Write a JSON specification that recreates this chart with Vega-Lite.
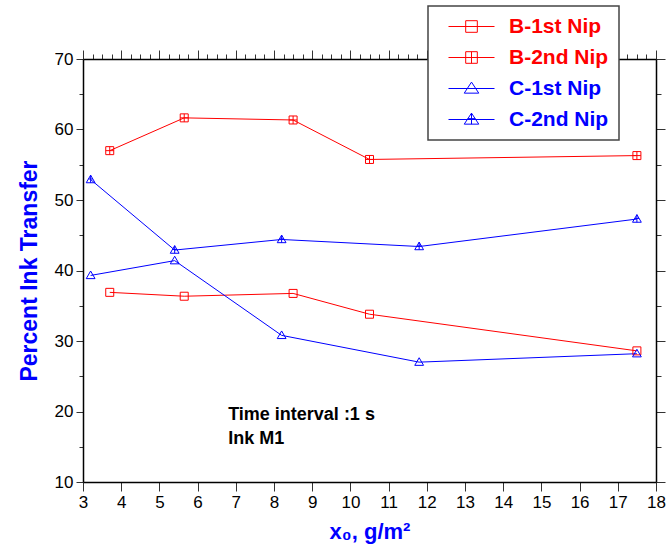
{
  "$schema": "https://vega.github.io/schema/vega-lite/v6.json",
  "width": 573,
  "height": 423,
  "autosize": {"type": "none"},
  "padding": {"left": 83, "top": 59, "right": 14, "bottom": 70},
  "background": "white",
  "config": {"view": {"stroke": null}, "font": "Liberation Sans"},
  "datasets": {
    "series": [
      {"series": "B-1st Nip", "x": 3.7, "y": 36.9},
      {"series": "B-1st Nip", "x": 5.65, "y": 36.35},
      {"series": "B-1st Nip", "x": 8.5, "y": 36.75},
      {"series": "B-1st Nip", "x": 10.5, "y": 33.8},
      {"series": "B-1st Nip", "x": 17.5, "y": 28.6},
      {"series": "B-2nd Nip", "x": 3.7, "y": 57.0},
      {"series": "B-2nd Nip", "x": 5.65, "y": 61.65},
      {"series": "B-2nd Nip", "x": 8.5, "y": 61.35},
      {"series": "B-2nd Nip", "x": 10.5, "y": 55.75},
      {"series": "B-2nd Nip", "x": 17.5, "y": 56.3},
      {"series": "C-1st Nip", "x": 3.2, "y": 39.3},
      {"series": "C-1st Nip", "x": 5.4, "y": 41.4},
      {"series": "C-1st Nip", "x": 8.2, "y": 30.8},
      {"series": "C-1st Nip", "x": 11.8, "y": 27.0},
      {"series": "C-1st Nip", "x": 17.5, "y": 28.2},
      {"series": "C-2nd Nip", "x": 3.2, "y": 52.9},
      {"series": "C-2nd Nip", "x": 5.4, "y": 42.9},
      {"series": "C-2nd Nip", "x": 8.2, "y": 44.4},
      {"series": "C-2nd Nip", "x": 11.8, "y": 43.4},
      {"series": "C-2nd Nip", "x": 17.5, "y": 47.3}
    ],
    "notes": [
      {"x": 6.8, "y": 18.85, "label": "Time interval :1 s"},
      {"x": 6.8, "y": 15.45, "label": "Ink M1"}
    ]
  },
  "resolve": {"axis": {"x": "independent", "y": "independent"}},
  "layer": [
    {
      "data": {"name": "series"},
      "mark": {"type": "line", "strokeWidth": 1},
      "encoding": {
        "x": {
          "field": "x", "type": "quantitative",
          "scale": {"domain": [3, 18], "nice": false, "zero": false},
          "axis": {
            "orient": "bottom",
            "values": [3,3.25,3.5,3.75,4,4.25,4.5,4.75,5,5.25,5.5,5.75,6,6.25,6.5,6.75,7,7.25,7.5,7.75,8,8.25,8.5,8.75,9,9.25,9.5,9.75,10,10.25,10.5,10.75,11,11.25,11.5,11.75,12,12.25,12.5,12.75,13,13.25,13.5,13.75,14,14.25,14.5,14.75,15,15.25,15.5,15.75,16,16.25,16.5,16.75,17,17.25,17.5,17.75,18],
            "format": "d",
            "labelExpr": "datum.value % 1 === 0 ? datum.label : ''",
            "labelOverlap": false,
            "labelFlush": false,
            "grid": false,
            "domainColor": "black", "domainWidth": 1.5,
            "tickColor": "#333", "tickWidth": 1,
            "tickSize": {"condition": {"test": "datum.value % 1 === 0", "value": 9}, "value": 5},
            "labelFont": "Liberation Sans", "labelFontSize": 17, "labelColor": "black", "labelPadding": 3,
            "title": "x₀, g/m²",
            "titleFont": "Liberation Sans", "titleFontSize": 22, "titleFontWeight": "bold", "titleColor": "#0000ff",
            "titlePadding": 11
          }
        },
        "y": {
          "field": "y", "type": "quantitative",
          "scale": {"domain": [10, 70], "nice": false, "zero": false},
          "axis": {
            "orient": "left",
            "values": [10,15,20,25,30,35,40,45,50,55,60,65,70],
            "format": "d",
            "labelExpr": "datum.value % 10 === 0 ? datum.label : ''",
            "labelOverlap": false,
            "labelFlush": false,
            "grid": false,
            "domainColor": "black", "domainWidth": 1.5,
            "tickColor": "#333", "tickWidth": 1,
            "tickSize": {"condition": {"test": "datum.value % 10 === 0", "value": 7}, "value": 4},
            "labelFont": "Liberation Sans", "labelFontSize": 17, "labelColor": "black", "labelPadding": 3,
            "title": "Percent Ink Transfer",
            "titleFont": "Liberation Sans", "titleFontSize": 23, "titleFontWeight": "bold", "titleColor": "#0000ff",
            "titlePadding": 13
          }
        },
        "color": {
          "field": "series", "type": "nominal",
          "scale": {"domain": ["B-1st Nip", "B-2nd Nip", "C-1st Nip", "C-2nd Nip"], "range": ["#ff0000", "#ff0000", "#0000ff", "#0000ff"]},
          "legend": {
            "orient": "none", "legendX": 345, "legendY": -53,
            "title": null,
            "padding": 10,
            "strokeColor": "#444", "fillColor": "white",
            "labelFont": "Liberation Sans", "labelFontSize": 21, "labelFontWeight": "bold",
            "labelOffset": 50,
            "rowPadding": 9,
            "symbolSize": 135, "symbolStrokeWidth": 1,
            "encode": {
              "legend": {"update": {"strokeWidth": {"value": 1.5}}},
              "symbols": {"update": {
                "size": {"value": 135},
                "fill": {"value": "transparent"},
                "shape": {"signal": "datum.value === 'B-1st Nip' ? 'M0,0H7.92M2.96,-1H4.96V1H2.96Z' : datum.value === 'B-2nd Nip' ? 'M0,0H7.92M2.96,-1H4.96V1H2.96ZM3.96,-1V1' : datum.value === 'C-1st Nip' ? 'M0,0H7.92M3.96,-1.1L5.21,0.8H2.71Z' : 'M0,0H7.92M3.96,-1.1L5.21,0.8H2.71ZM3.96,-1.1V0.8M3.3,-0.15H4.62'"}
              }},
              "labels": {"update": {"fill": {"signal": "indexof(datum.value, 'B') === 0 ? '#ff0000' : '#0000ff'"}}}
            }
          }
        },
        "detail": {"field": "series"}
      }
    },
    {
      "data": {"name": "series"},
      "transform": [{"filter": "datum.series === 'B-1st Nip'"}],
      "mark": {"type": "point", "filled": false, "strokeWidth": 1, "size": 64, "opacity": 1, "color": "#ff0000", "shape": "M-1,-1H1V1H-1Z"},
      "encoding": {
        "x": {
          "field": "x", "type": "quantitative",
          "axis": {
            "orient": "top",
            "values": [3,3.25,3.5,3.75,4,4.25,4.5,4.75,5,5.25,5.5,5.75,6,6.25,6.5,6.75,7,7.25,7.5,7.75,8,8.25,8.5,8.75,9,9.25,9.5,9.75,10,10.25,10.5,10.75,11,11.25,11.5,11.75,12,12.25,12.5,12.75,13,13.25,13.5,13.75,14,14.25,14.5,14.75,15,15.25,15.5,15.75,16,16.25,16.5,16.75,17,17.25,17.5,17.75,18],
            "labels": false, "title": null, "grid": false,
            "domainColor": "black", "domainWidth": 1.5,
            "tickColor": "#333", "tickWidth": 1,
            "tickSize": {"condition": {"test": "datum.value % 1 === 0", "value": 9}, "value": 5}
          }
        },
        "y": {
          "field": "y", "type": "quantitative",
          "axis": {
            "orient": "right",
            "values": [10,15,20,25,30,35,40,45,50,55,60,65,70],
            "labels": false, "title": null, "grid": false,
            "domainColor": "black", "domainWidth": 1.5,
            "tickColor": "#333", "tickWidth": 1,
            "tickSize": {"condition": {"test": "datum.value % 10 === 0", "value": 9}, "value": 5}
          }
        }
      }
    },
    {
      "data": {"name": "series"},
      "transform": [{"filter": "datum.series === 'B-2nd Nip'"}],
      "mark": {"type": "point", "filled": false, "strokeWidth": 1, "size": 64, "opacity": 1, "color": "#ff0000", "shape": "M-1,-1H1V1H-1ZM0,-1V1M-1,0H1"},
      "encoding": {
        "x": {"field": "x", "type": "quantitative", "axis": null},
        "y": {"field": "y", "type": "quantitative", "axis": null}
      }
    },
    {
      "data": {"name": "series"},
      "transform": [{"filter": "datum.series === 'C-1st Nip'"}],
      "mark": {"type": "point", "filled": false, "strokeWidth": 1, "size": 64, "opacity": 1, "color": "#0000ff", "shape": "M0,-1.1L1.1,0.8H-1.1Z"},
      "encoding": {
        "x": {"field": "x", "type": "quantitative", "axis": null},
        "y": {"field": "y", "type": "quantitative", "axis": null}
      }
    },
    {
      "data": {"name": "series"},
      "transform": [{"filter": "datum.series === 'C-2nd Nip'"}],
      "mark": {"type": "point", "filled": false, "strokeWidth": 1, "size": 64, "opacity": 1, "color": "#0000ff", "shape": "M0,-1.1L1.1,0.8H-1.1ZM0,-1.1V0.8M-0.55,-0.15H0.55"},
      "encoding": {
        "x": {"field": "x", "type": "quantitative", "axis": null},
        "y": {"field": "y", "type": "quantitative", "axis": null}
      }
    },
    {
      "data": {"name": "notes"},
      "mark": {"type": "text", "align": "left", "baseline": "alphabetic", "font": "Liberation Sans", "fontSize": 18, "fontWeight": "bold", "color": "black"},
      "encoding": {
        "x": {"field": "x", "type": "quantitative", "axis": null},
        "y": {"field": "y", "type": "quantitative", "axis": null},
        "text": {"field": "label"}
      }
    }
  ]
}
